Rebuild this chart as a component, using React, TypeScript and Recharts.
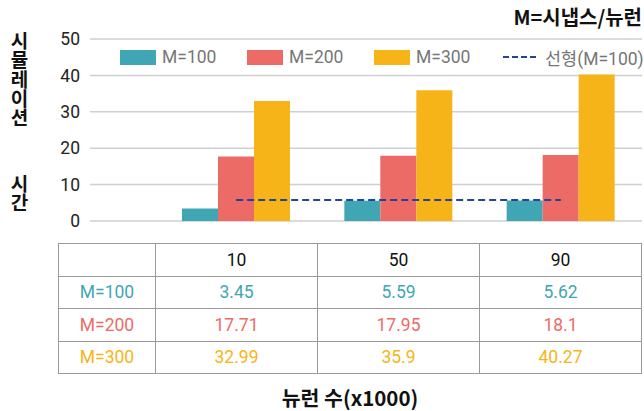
import React from 'react';
import { ComposedChart, Bar, Line, XAxis, YAxis, CartesianGrid } from 'recharts';

const categories = ['10', '50', '90'];
const m100 = [3.45, 5.59, 5.62];
const m200 = [17.71, 17.95, 18.1];
const m300 = [32.99, 35.9, 40.27];
// 선형 추세선
const trend = [5.8, 5.8, 5.8];
const yTicks = [0, 10, 20, 30, 40, 50];

const series = [
  { key: 'm100', name: 'M=100', color: '#41A6B4', values: m100 },
  { key: 'm200', name: 'M=200', color: '#EC6B66', values: m200 },
  { key: 'm300', name: 'M=300', color: '#F6B418', values: m300 },
];
const trendName = '선형(M=100)';
const trendColor = '#24449A';

const data = categories.map((c, i) => ({
  cat: c,
  m100: m100[i],
  m200: m200[i],
  m300: m300[i],
  trend: trend[i],
}));

const FONT = 'Roboto, "Noto Sans CJK KR", sans-serif';
const KFONT = '"Noto Sans CJK KR", Roboto, sans-serif';

const cellBorder = '1.5px solid #9a9a9a';

const LegendBox = () => (
  <div
    style={{
      position: 'absolute',
      top: 47,
      left: 120,
      display: 'flex',
      alignItems: 'center',
      fontFamily: FONT,
      fontSize: 17.5,
      color: '#767676',
      height: 20,
    }}
  >
    {series.map((s) => (
      <div key={s.key} style={{ display: 'flex', alignItems: 'center', width: 127 }}>
        <span style={{ display: 'inline-block', width: 36, height: 15, background: s.color, marginRight: 6 }} />
        <span>{s.name}</span>
      </div>
    ))}
    <div style={{ display: 'flex', alignItems: 'center', marginLeft: 2 }}>
      <svg width={36} height={4} style={{ marginRight: 6 }}>
        <line x1={0} y1={2} x2={36} y2={2} stroke={trendColor} strokeWidth={2} strokeDasharray="6 3" />
      </svg>
      <span>{trendName}</span>
    </div>
  </div>
);

// 세로 글자 (시뮬레이션 / 시간)
const VText = ({ text, top }: { text: string; top: number }) => (
  <div
    style={{
      position: 'absolute',
      left: 7,
      top,
      width: 24,
      writingMode: 'vertical-lr',
      textOrientation: 'upright',
      letterSpacing: 0.4,
      lineHeight: '24px',
      fontFamily: KFONT,
      fontSize: 19,
      fontWeight: 700,
      color: '#111',
    }}
  >
    {text}
  </div>
);

export default function App() {
  return (
    <div style={{ position: 'fixed', left: 0, top: 0, width: 644, height: 411, background: '#fff', fontFamily: FONT, overflow: 'hidden' }}>
      <div style={{ position: 'absolute', right: 2, top: 4, fontFamily: KFONT, fontSize: 20, fontWeight: 700, color: '#111', lineHeight: '26px' }}>
        M=시냅스/뉴런
      </div>
      <VText text="시뮬레이션" top={30.5} />
      <VText text="시간" top={173.5} />
      <div style={{ position: 'absolute', left: 0, top: 0 }}>
        <ComposedChart width={644} height={240} data={data} margin={{ top: 39, right: 2, left: 0, bottom: 19 }} barGap={0}>
          <CartesianGrid vertical={false} stroke="#cfcfcf" strokeWidth={1.5} />
          <XAxis dataKey="cat" hide padding={{ left: 65, right: 0 }} />
          <YAxis
            width={90}
            domain={[0, 50]}
            ticks={yTicks}
            tickLine={false}
            axisLine={false}
            tickMargin={4}
            tick={{ fill: '#222', fontSize: 17.5, fontFamily: FONT }}
          />
          {series.map((s) => (
            <Bar key={s.key} dataKey={s.key} name={s.name} fill={s.color} barSize={36} isAnimationActive={false} />
          ))}
          <Line
            dataKey="trend"
            name={trendName}
            stroke={trendColor}
            strokeWidth={2}
            strokeDasharray="7 4"
            dot={false}
            isAnimationActive={false}
          />
        </ComposedChart>
      </div>
      <LegendBox />
      <table
        style={{
          position: 'absolute',
          left: 58,
          top: 243,
          borderCollapse: 'collapse',
          fontSize: 17.5,
          textAlign: 'center',
          tableLayout: 'fixed',
          fontFamily: FONT,
        }}
      >
        <colgroup>
          <col style={{ width: 97 }} />
          {categories.map((c) => (
            <col key={c} style={{ width: 162 }} />
          ))}
        </colgroup>
        <tbody>
          <tr style={{ height: 32.5 }}>
            <td style={{ border: cellBorder }} />
            {categories.map((c) => (
              <td key={c} style={{ border: cellBorder, color: '#111', padding: 0 }}>{c}</td>
            ))}
          </tr>
          {series.map((s) => (
            <tr key={s.key} style={{ height: 32.5 }}>
              <td style={{ border: cellBorder, color: s.color, padding: 0 }}>{s.name}</td>
              {s.values.map((v, i) => (
                <td key={i} style={{ border: cellBorder, color: s.color, padding: 0 }}>{v}</td>
              ))}
            </tr>
          ))}
        </tbody>
      </table>
      <div
        style={{
          position: 'absolute',
          left: 250,
          width: 200,
          top: 384,
          textAlign: 'center',
          fontFamily: KFONT,
          fontSize: 20.5,
          fontWeight: 700,
          color: '#111',
          lineHeight: '26px',
        }}
      >
        뉴런 수(x1000)
      </div>
    </div>
  );
}
